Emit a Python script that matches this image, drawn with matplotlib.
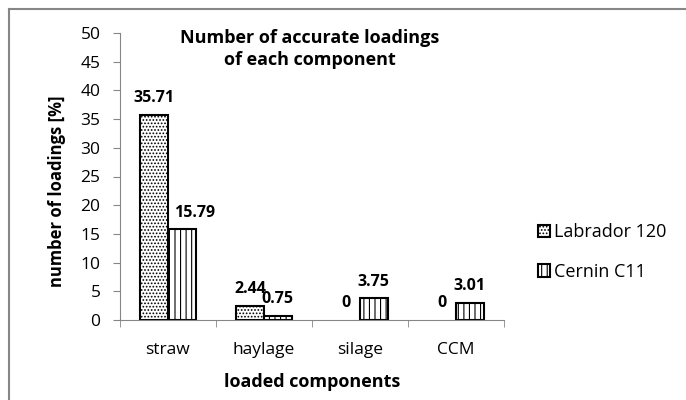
import numpy as np
import matplotlib.pyplot as plt
from matplotlib.lines import Line2D

categories = ['straw', 'haylage', 'silage', 'CCM']
labrador = [35.71, 2.44, 0, 0]
cernin = [15.79, 0.75, 3.75, 3.01]
series_names = ['Labrador 120', 'Cernin C11']

plt.rcParams['font.family'] = ['Open Sans', 'DejaVu Sans']
plt.rcParams['hatch.linewidth'] = 0.8

fig = plt.figure(figsize=(6.86, 4.0), dpi=100)
ax = fig.add_axes([120 / 686, 80 / 400, 384 / 686, 287 / 400])

# chart frame, only top and left edges are visible (cropped picture)
fig.add_artist(Line2D([9 / 686, 1], [1 - 9 / 400, 1 - 9 / 400], transform=fig.transFigure,
                      color='#868686', linewidth=1.5))
fig.add_artist(Line2D([9 / 686, 9 / 686], [0, 1 - 9 / 400], transform=fig.transFigure,
                      color='#868686', linewidth=1.5))

x = np.arange(len(categories))
w = 0.287
b1 = ax.bar(x - w / 2, labrador, w, color='white', edgecolor='black', linewidth=1.5,
            hatch='.....', label=series_names[0])
b2 = ax.bar(x + w / 2, cernin, w, color='white', edgecolor='black', linewidth=1.5,
            hatch='|||', label=series_names[1])

for k, (bars, vals) in enumerate(((b1, labrador), (b2, cernin))):
    for i, (r, v) in enumerate(zip(bars, vals)):
        if v == 0:
            r.set_visible(False)
        txt = '0' if v == 0 else f'{v:.2f}'
        dx = 9 if (k == 1 and i == 0) else 0  # label nudged right in the original
        ax.annotate(txt, (r.get_x() + r.get_width() / 2, v), xytext=(dx, 12),
                    textcoords='offset points', ha='center', va='center',
                    fontsize=11.5, fontweight='bold')

ax.set_ylim(0, 50)
ax.set_yticks(range(0, 51, 5))
ax.set_xlim(-0.5, len(categories) - 0.5)
ax.set_xticks(x)
ax.set_xticklabels(categories, fontsize=12.5)
ax.set_xticks(np.arange(-0.5, len(categories)), minor=True)
ax.tick_params(axis='x', which='major', length=0, pad=16)
ax.tick_params(axis='x', which='minor', length=5, color='#868686', direction='out')
ax.tick_params(axis='y', length=5, color='#868686', labelsize=12.5, pad=9)
for s in ['top', 'right']:
    ax.spines[s].set_visible(False)
for s in ['left', 'bottom']:
    ax.spines[s].set_color('#868686')

fig.text(57 / 686, 1 - 191 / 400, 'number of loadings [%]', rotation=90, ha='center',
         va='center', fontsize=12, fontweight='bold')
fig.text(312 / 686, 1 - 382 / 400, 'loaded components', ha='center', va='center',
         fontsize=13, fontweight='bold')
fig.text(310 / 686, 1 - 49 / 400, 'Number of accurate loadings\nof each component',
         ha='center', va='center', fontsize=13, fontweight='bold', linespacing=1.35)

fig.legend(handles=[b1, b2], labels=series_names, loc='center left',
           bbox_to_anchor=(522 / 686, 1 - 252 / 400), frameon=False, fontsize=13,
           handlelength=0.65, handleheight=0.65, handletextpad=0.2, labelspacing=1.2)

fig.savefig('out.png', dpi=100)
